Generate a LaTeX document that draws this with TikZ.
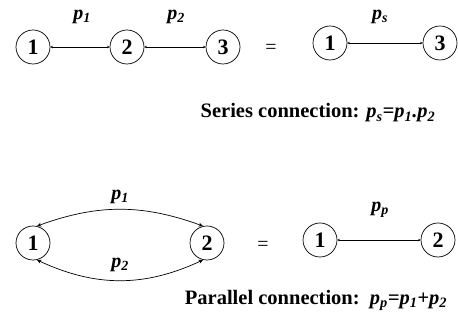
\documentclass[tikz,border=0pt]{standalone}
\usepackage{fontspec}
\setmainfont{Liberation Serif}
\usepackage{tikz}
\usetikzlibrary{arrows.meta}

\begin{document}
\begin{tikzpicture}[x=1pt, y=1pt,
    vertex/.style={draw, circle, line width=0.7pt, minimum size=34pt, inner sep=0pt,
                   font=\fontsize{22}{22}\selectfont\bfseries},
    link/.style={line width=0.7pt, {Stealth[length=2.5pt,width=2.5pt]}-{Stealth[length=2.5pt,width=2.5pt]}},
    branch/.style={line width=0.7pt, {Stealth[length=4.5pt,width=4pt]}-{Stealth[length=4.5pt,width=4pt]}},
    plabel/.style={font=\fontsize{20}{20}\selectfont\bfseries\itshape},
    caption/.style={font=\fontsize{20.5}{20.5}\selectfont\bfseries},
    equal/.style={font=\fontsize{20}{20}\selectfont}]
    \useasboundingbox (0,0) rectangle (458,323);

    % series connection
    \node[vertex] (s1) at (33,276) {1};
    \node[vertex] (s2) at (127,276) {2};
    \node[vertex] (s3) at (223,276) {3};
    \draw[link] (s1) -- (s2);
    \draw[link] (s2) -- (s3);
    \node[plabel] (sp1) at (82,306) {p\textsubscript{1}};
    \node[plabel] (sp2) at (176,306) {p\textsubscript{2}};
    \node[equal] (seq) at (271,274) {=};
    \node[vertex] (t1) at (330,280) {1};
    \node[vertex] (t3) at (440,280) {3};
    \draw[link] (t1) -- (t3);
    \node[plabel] (tps) at (380,306) {p\textsubscript{s}};
    \node[caption] (scap) at (318,210)
      {Series connection: \textit{p\textsubscript{s}=p\textsubscript{1}.p\textsubscript{2}}};

    % parallel connection
    \node[vertex] (q1) at (33,80) {1};
    \node[vertex] (q2) at (207,80) {2};
    \draw[branch] (q1.77) to[out=20, in=160] (q2.103);
    \draw[branch] (q1.-77) to[out=-25, in=-155] (q2.-103);
    \node[plabel] (qp1) at (120,126) {p\textsubscript{1}};
    \node[plabel] (qp2) at (120,58) {p\textsubscript{2}};
    \node[equal] (qeq) at (263,77) {=};
    \node[vertex] (c1) at (320,83) {1};
    \node[vertex] (c2) at (438,83) {2};
    \draw[link] (c1) -- (c2);
    \node[plabel] (cpp) at (380,113) {p\textsubscript{p}};
    \node[caption] (pcap) at (316,23)
      {Parallel connection:\ \ \textit{p\textsubscript{p}=p\textsubscript{1}+p\textsubscript{2}}};
\end{tikzpicture}
\end{document}
